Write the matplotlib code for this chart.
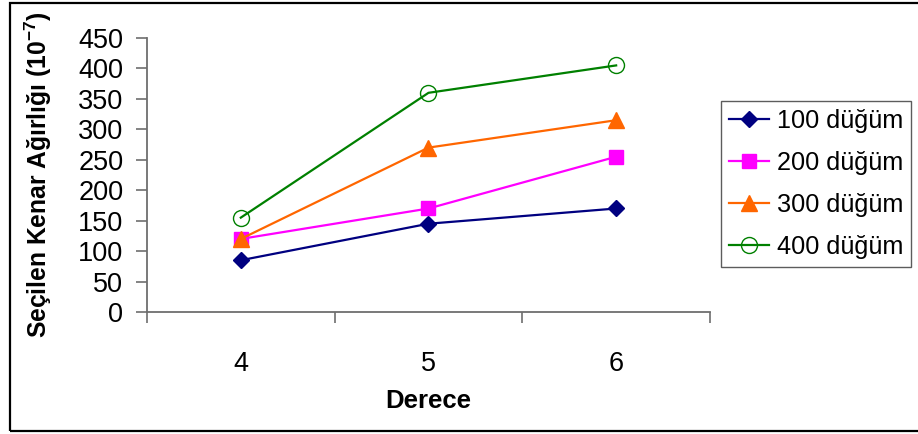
import matplotlib
matplotlib.use("Agg")
import matplotlib.pyplot as plt
from matplotlib.patches import Rectangle

plt.rcParams['font.family'] = ['Liberation Sans', 'DejaVu Sans']
plt.rcParams['mathtext.fontset'] = 'custom'
plt.rcParams['mathtext.rm'] = 'Liberation Sans'
plt.rcParams['mathtext.bf'] = 'Liberation Sans:bold'

# Degree categories and edge weights per node count
categories = ["4", "5", "6"]
labels = ["100 düğüm", "200 düğüm", "300 düğüm", "400 düğüm"]
w100 = [85, 145, 170]
w200 = [120, 170, 255]
w300 = [120, 270, 315]
w400 = [155, 360, 405]
yticks = [0, 50, 100, 150, 200, 250, 300, 350, 400, 450]

series = [w100, w200, w300, w400]
styles = [
    dict(color="#000080", marker="D", markersize=7.7, markerfacecolor="#000080",
         markeredgecolor="#000080"),
    dict(color="#FF00FF", marker="s", markersize=10, markerfacecolor="#FF00FF",
         markeredgecolor="#FF00FF"),
    dict(color="#FF6600", marker="^", markersize=11.5, markerfacecolor="#FF6600",
         markeredgecolor="#FF6600"),
    dict(color="#008000", marker="o", markersize=11.5, markerfacecolor="none",
         markeredgecolor="#008000", markeredgewidth=1.0),
]

FS = 18.5
YLAB_FS = 17.7
LEG_FS = 18.2
TICK_FS = 19.5
fig = plt.figure(figsize=(9.18, 4.34), dpi=100)
ax = fig.add_axes([0.1601, 0.2811, 0.6133, 0.6313])

x = list(range(len(categories)))
for vals, lab, st in zip(series, labels, styles):
    ax.plot(x, vals, label=lab, linewidth=1.6, clip_on=False, **st)

ax.set_xlim(-0.5, len(categories) - 0.5)
ax.set_ylim(0, 450)
ax.set_yticks(yticks)
ax.set_yticklabels([str(v) for v in yticks], fontsize=TICK_FS)
ax.set_xticks(x)
ax.set_xticklabels(categories, fontsize=TICK_FS)
ax.set_xticks([i - 0.5 for i in range(len(categories) + 1)], minor=True)

for side in ("top", "right"):
    ax.spines[side].set_visible(False)
for side in ("left", "bottom"):
    ax.spines[side].set_color("#6e6e6e")
    ax.spines[side].set_linewidth(1.3)

ax.tick_params(axis="y", which="major", direction="out", length=8, width=1.2,
               color="#6e6e6e", pad=9)
ax.tick_params(axis="x", which="major", length=0, pad=28)
ax.tick_params(axis="x", which="minor", direction="out", length=8, width=1.2,
               color="#6e6e6e")

ax.set_xlabel("Derece", fontsize=FS, fontweight="bold", labelpad=9)
fig.text(38 / 918, 0.5 + (434 / 2 - 175) / 434,
         "Seçilen Kenar Ağırlığı (10$^{\\mathbf{-7}}$)",
         rotation=90, ha="center", va="center", fontsize=YLAB_FS,
         fontweight="bold")

leg = fig.legend(loc="upper left", bbox_to_anchor=(721 / 918, 1 - 101 / 434),
                 borderaxespad=0, fontsize=LEG_FS, frameon=True, fancybox=False,
                 handlelength=1.6, handletextpad=0.3, labelspacing=0.72,
                 borderpad=0.3)
leg.get_frame().set_edgecolor("#333333")
leg.get_frame().set_linewidth(1.0)

# Outer chart frame
fig.patches.append(Rectangle((10 / 918, 1 - 431 / 434), 1.0, (431 - 3) / 434,
                             transform=fig.transFigure, fill=False,
                             edgecolor="black", linewidth=1.6))

fig.savefig("out.png", dpi=100, facecolor="white")
